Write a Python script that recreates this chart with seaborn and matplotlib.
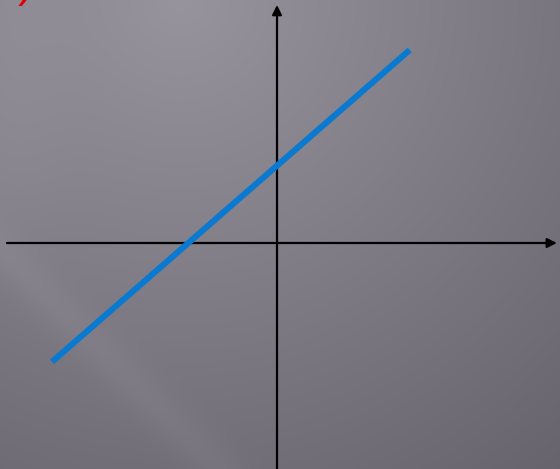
import numpy as np
import pandas as pd
import matplotlib
matplotlib.use("Agg")
import matplotlib.pyplot as plt
import seaborn as sns

# Straight line y = m*x + b, sampled at its two ends
line_x = [-5.0, 2.95]
line_y = [-2.64, 4.29]

# Coordinate window (units) and axis extents
x_lim = (-6.156, 6.289)
y_lim = (-5.022, 5.4)
x_axis_span = (-6.0, 6.22)
y_axis_span = (-5.1, 5.29)

W, H = 560, 469
sns.set_theme(style="white")

fig = plt.figure(figsize=(W / 100, H / 100), dpi=100)
ax = fig.add_axes([0, 0, 1, 1])

# Slate-grey backdrop: radial falloff from the top plus soft diagonal light streaks
yy, xx = np.mgrid[0:H, 0:W].astype(float)
dist = np.hypot(xx - 180, yy)
v = 152 - 0.08 * dist
diag = yy - xx


def smooth(t, w):
    return 1 / (1 + np.exp(-t / w))


v += 14 * smooth(diag + 150, 4) * smooth(-(diag + 400), 6)
v += 6 * np.exp(-((diag - 250) / 30) ** 2)
v += 6 * np.exp(-(xx / 60) ** 2) * smooth(240 - yy, 30)
rgb = np.stack([v, v - 4, v + 5], axis=-1) / 255
ax.imshow(np.clip(rgb, 0, 1), extent=(*x_lim, *y_lim), aspect="auto",
          origin="upper", zorder=0)

# Coordinate axes with arrowheads
arrow = dict(arrowstyle="-|>", lw=1.6, color="black", mutation_scale=14,
             shrinkA=0, shrinkB=0)
ax.annotate("", xy=(x_axis_span[1], 0), xytext=(x_axis_span[0], 0),
            arrowprops=arrow, zorder=2)
ax.annotate("", xy=(0, y_axis_span[1]), xytext=(0, y_axis_span[0]),
            arrowprops=arrow, zorder=2)

# The line itself
df = pd.DataFrame({"x": line_x, "y": line_y})
sns.lineplot(data=df, x="x", y="y", ax=ax, color="#0a79d0", lw=4.4,
             solid_capstyle="butt", zorder=3)

# Fragment of a red parenthesis at the top-left corner
fig.text(21 / W, 1 - 10 / H, ")", color="#e00000", fontsize=30,
         style="italic", va="bottom", ha="left")

ax.set_xlim(*x_lim)
ax.set_ylim(*y_lim)
ax.set_axis_off()
fig.savefig("out.png", dpi=100)
